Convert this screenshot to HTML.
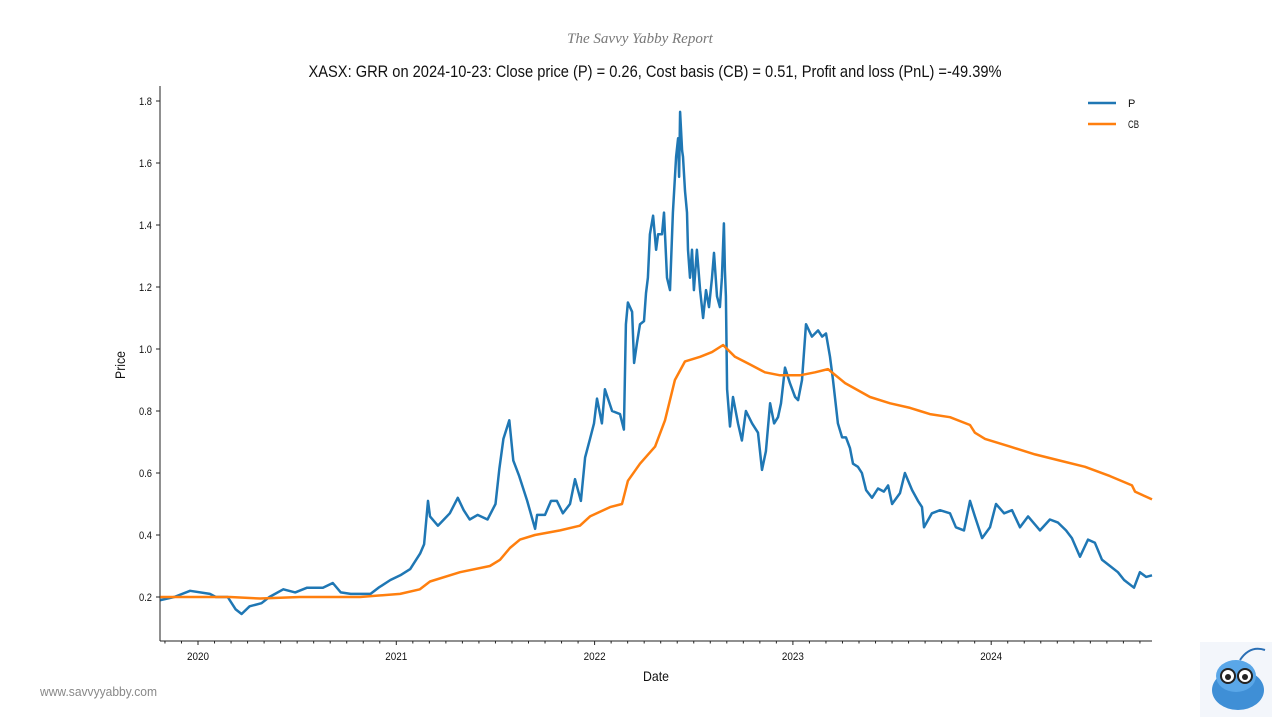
<!DOCTYPE html>
<html><head><meta charset="utf-8"><style>
body{margin:0;background:#fff;width:1280px;height:720px;overflow:hidden;font-family:"Liberation Sans Narrow","Liberation Sans",sans-serif;}
</style></head><body>
<svg id="chart" width="1280" height="720" xmlns="http://www.w3.org/2000/svg">
<text x="640" y="43" text-anchor="middle" font-family="Liberation Serif,serif" font-style="italic" font-size="15" fill="#777">The Savvy Yabby Report</text>
<text x="655" y="77" text-anchor="middle" font-size="17" textLength="693" lengthAdjust="spacingAndGlyphs" fill="#111">XASX: GRR on 2024-10-23: Close price (P) = 0.26, Cost basis (CB) = 0.51, Profit and loss (PnL) =-49.39%</text>
<g id="axes"></g>
<g id="series"></g>
<g>
<line x1="1088" y1="103" x2="1116" y2="103" stroke="#1f77b4" stroke-width="2.5"/>
<text x="1128" y="107" font-size="11" fill="#111">P</text>
<line x1="1088" y1="124" x2="1116" y2="124" stroke="#ff7f0e" stroke-width="2.5"/>
<text x="1128" y="128" font-size="11" textLength="11" lengthAdjust="spacingAndGlyphs" fill="#111">CB</text>
</g>
<text x="656" y="681" text-anchor="middle" font-size="14" textLength="26" lengthAdjust="spacingAndGlyphs" fill="#111">Date</text>
<text x="0" y="0" transform="translate(125,365) rotate(-90)" text-anchor="middle" font-size="14" textLength="28" lengthAdjust="spacingAndGlyphs" fill="#111">Price</text>
<text x="40" y="696" font-size="13" textLength="117" lengthAdjust="spacingAndGlyphs" fill="#888">www.savvyyabby.com</text>
<g>
<rect x="1200" y="642" width="72" height="75" fill="#f3f6fb"/>
<ellipse cx="1238" cy="690" rx="26" ry="20" fill="#3f8fd6"/>
<ellipse cx="1236" cy="676" rx="20" ry="16" fill="#5aa7e8"/>
<circle cx="1228" cy="676" r="7" fill="#fff" stroke="#222" stroke-width="2"/>
<circle cx="1245" cy="676" r="7" fill="#fff" stroke="#222" stroke-width="2"/>
<circle cx="1228" cy="677" r="3" fill="#222"/>
<circle cx="1245" cy="677" r="3" fill="#222"/>
<path d="M1240 660 Q1250 645 1265 650" stroke="#2a6fb5" stroke-width="2" fill="none"/>
</g>
</svg>
<script>
const yearsSince2020P=[-0.19,-0.12,-0.04,0.06,0.09,0.15,0.19,0.22,0.26,0.32,0.36,0.43,0.49,0.55,0.63,0.68,0.72,0.77,0.87,0.91,0.97,1.02,1.07,1.09,1.12,1.14,1.16,1.17,1.21,1.24,1.27,1.31,1.34,1.37,1.41,1.46,1.50,1.52,1.54,1.57,1.59,1.62,1.66,1.70,1.71,1.75,1.78,1.81,1.84,1.876,1.901,1.931,1.952,1.977,1.997,2.012,2.037,2.052,2.088,2.128,2.148,2.158,2.168,2.189,2.199,2.214,2.229,2.249,2.259,2.269,2.279,2.295,2.310,2.320,2.340,2.350,2.365,2.380,2.395,2.411,2.421,2.426,2.431,2.441,2.446,2.456,2.466,2.471,2.481,2.491,2.501,2.516,2.532,2.547,2.562,2.577,2.592,2.602,2.617,2.632,2.642,2.652,2.657,2.662,2.668,2.683,2.698,2.723,2.743,2.763,2.794,2.814,2.824,2.844,2.864,2.885,2.905,2.925,2.940,2.960,2.985,3.011,3.026,3.046,3.066,3.096,3.127,3.147,3.167,3.187,3.202,3.227,3.248,3.268,3.288,3.303,3.328,3.348,3.369,3.399,3.429,3.459,3.480,3.500,3.540,3.565,3.601,3.631,3.651,3.661,3.701,3.742,3.792,3.822,3.863,3.893,3.918,3.954,3.994,4.024,4.065,4.105,4.145,4.186,4.246,4.296,4.337,4.377,4.407,4.448,4.488,4.523,4.559,4.599,4.639,4.670,4.720,4.750,4.781,4.811];
const priceP=[0.19,0.20,0.22,0.21,0.20,0.20,0.16,0.145,0.17,0.18,0.20,0.225,0.215,0.23,0.23,0.245,0.215,0.21,0.21,0.23,0.255,0.27,0.29,0.31,0.34,0.37,0.51,0.46,0.43,0.45,0.47,0.52,0.48,0.45,0.465,0.45,0.50,0.615,0.71,0.77,0.64,0.59,0.51,0.42,0.465,0.465,0.51,0.51,0.47,0.50,0.58,0.51,0.65,0.71,0.76,0.84,0.76,0.87,0.80,0.79,0.74,1.08,1.15,1.12,0.955,1.02,1.08,1.09,1.18,1.23,1.37,1.43,1.32,1.37,1.37,1.44,1.23,1.19,1.44,1.62,1.68,1.555,1.765,1.64,1.62,1.51,1.44,1.32,1.23,1.32,1.19,1.32,1.19,1.10,1.19,1.135,1.23,1.31,1.17,1.135,1.23,1.405,1.255,1.17,0.87,0.75,0.845,0.76,0.705,0.80,0.76,0.74,0.73,0.61,0.67,0.825,0.76,0.78,0.825,0.94,0.89,0.845,0.835,0.90,1.08,1.04,1.06,1.04,1.05,0.975,0.90,0.76,0.715,0.715,0.68,0.63,0.62,0.60,0.545,0.52,0.55,0.54,0.56,0.50,0.535,0.60,0.545,0.51,0.49,0.425,0.47,0.48,0.47,0.425,0.415,0.51,0.46,0.39,0.425,0.50,0.47,0.48,0.425,0.46,0.415,0.45,0.44,0.415,0.39,0.33,0.385,0.375,0.32,0.30,0.28,0.255,0.23,0.28,0.265,0.27,0.26];
const yearsSince2020CB=[-0.19,0.161,0.313,0.514,0.817,1.019,1.119,1.170,1.321,1.472,1.523,1.573,1.624,1.699,1.826,1.926,1.977,2.078,2.138,2.168,2.229,2.305,2.355,2.405,2.456,2.532,2.592,2.648,2.708,2.784,2.859,2.935,3.036,3.112,3.177,3.263,3.389,3.490,3.591,3.641,3.691,3.792,3.893,3.918,3.969,4.095,4.221,4.347,4.473,4.599,4.710,4.725,4.776,4.811];
const costCB=[0.20,0.20,0.195,0.20,0.20,0.21,0.225,0.25,0.28,0.30,0.32,0.358,0.385,0.40,0.415,0.43,0.46,0.49,0.50,0.575,0.63,0.685,0.77,0.90,0.96,0.975,0.99,1.013,0.975,0.95,0.925,0.915,0.915,0.925,0.935,0.89,0.845,0.825,0.81,0.80,0.79,0.78,0.755,0.73,0.71,0.685,0.66,0.64,0.62,0.59,0.56,0.54,0.525,0.515];
const yTicks=[0.2,0.4,0.6,0.8,1.0,1.2,1.4,1.6,1.8];
const xTickYears=[2020,2021,2022,2023,2024];

const NS="http://www.w3.org/2000/svg";
const X0=160,X1=1152,Y0=641,TOP=86;
const xs=yr=>198+(yr-2020)*198.3;
const ys=v=>597-(v-0.2)*310;
function mk(tag,attrs,parent){const e=document.createElementNS(NS,tag);for(const k in attrs)e.setAttribute(k,attrs[k]);parent.appendChild(e);return e;}
const axes=document.getElementById('axes');
let e=mk('line',{x1:X0,y1:TOP,x2:X0,y2:Y0,stroke:'#222','stroke-width':1},axes);


e=mk('line',{x1:X0,y1:Y0,x2:X1,y2:Y0,stroke:'#222','stroke-width':1},axes);


yTicks.forEach(v=>{
  const y=ys(v);
  let t=mk('line',{x1:X0-4,y1:y,x2:X0,y2:y,stroke:'#222'},axes);
  
  
  let l=mk('text',{x:X0-8,y:y+4,'text-anchor':'end','font-size':11,textLength:13,lengthAdjust:'spacingAndGlyphs',fill:'#111'},axes);
  l.textContent=v.toFixed(1);
  
  
});
for(let m=0;m<=60;m++){
  const yr=2019+10/12+m/12;
  const x=xs(yr);
  if(x<X0-0.5||x>X1+0.5)continue;
  const major=Math.abs(yr-Math.round(yr))<1e-6;
  let t=mk('line',{x1:x,y1:Y0,x2:x,y2:Y0+(major?4:2.5),stroke:'#222'},axes);
  
  
}
xTickYears.forEach(yr=>{
  let l=mk('text',{x:xs(yr),y:Y0+19,'text-anchor':'middle','font-size':11,textLength:22,lengthAdjust:'spacingAndGlyphs',fill:'#111'},axes);
  l.textContent=yr;
  
  
});
const ser=document.getElementById('series');
function path(yrs,vals){return yrs.map((t,i)=>(i?'L':'M')+xs(2020+t).toFixed(1)+' '+ys(vals[i]).toFixed(1)).join(' ');}
let p=mk('path',{d:path(yearsSince2020P,priceP),fill:'none',stroke:'#1f77b4','stroke-width':2.5,'stroke-linejoin':'round'},ser);


let c=mk('path',{d:path(yearsSince2020CB,costCB),fill:'none',stroke:'#ff7f0e','stroke-width':2.5,'stroke-linejoin':'round'},ser);


</script>
</body></html>
